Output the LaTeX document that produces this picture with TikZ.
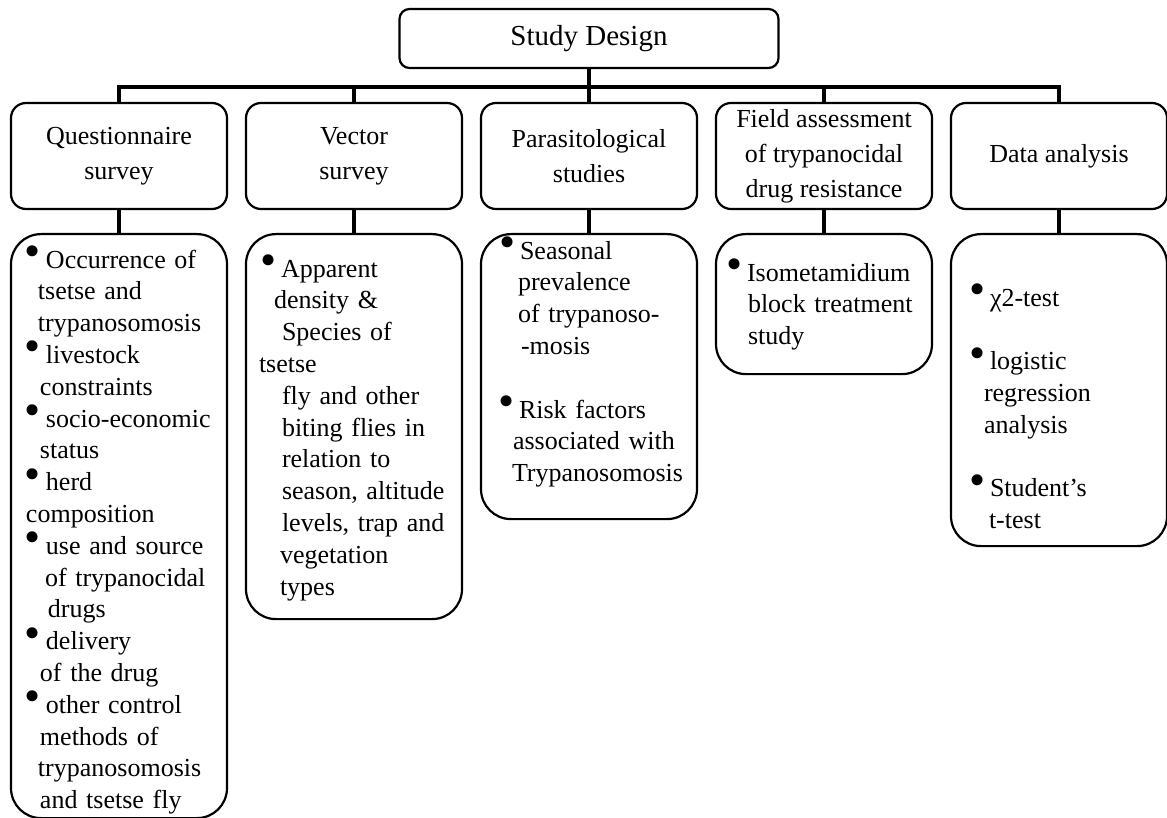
\documentclass[tikz,border=0pt]{standalone}
\usepackage{fontspec}
\setmainfont{Liberation Serif}
\newcommand{\bul}{\makebox[9pt][l]{\hspace*{-1.5pt}\raisebox{0.8pt}{\fontsize{23}{23}\selectfont\textbullet}}}
\begin{document}
\begin{tikzpicture}[level distance=58.75pt, sibling distance=117.5pt,
  every node/.style = {shape=rectangle, draw, line width=1.1pt,
    font=\fontsize{13}{17.5}\selectfont},
  head/.style = {rounded corners=5pt, minimum width=189.5pt,
    minimum height=29.5pt, font=\fontsize{14.5}{17}\selectfont},
  topic/.style = {rounded corners=7.5pt, minimum width=108pt,
    minimum height=53pt, align=center, inner sep=2pt},
  items/.style = {rounded corners=15pt, text width=104pt, inner xsep=2pt,
    inner ysep=0pt, align=left, anchor=north,
    font=\fontsize{13}{15.9}\selectfont},
  level 1/.style = {edge from parent path={(\tikzparentnode.south)
    -- ++(0,-9pt) -| (\tikzchildnode.north)}},
  level 2/.style = {level distance=38.5pt, edge from parent
    path={(\tikzparentnode.south) -- (\tikzchildnode.north)}},
  edge from parent/.style = {draw, line width=1.8pt}]
  \useasboundingbox (0,0) rectangle (583.5pt,-409pt);
  \node[head] (design) at (294.5pt,-19.25pt) {Study Design}
    child { node[topic] (quest) {Questionnaire\\survey}
      child { node[items, text height=17pt, text depth=275pt] (questlist) {%
        \hspace*{6.5pt}\bul Occurrence of\\
        \hspace*{11.5pt}tsetse and\\
        \hspace*{11.5pt}trypanosomosis\\
        \hspace*{6.5pt}\bul livestock\\
        \hspace*{12.5pt}constraints\\
        \hspace*{6.5pt}\bul socio-economic\\
        \hspace*{12.5pt}status\\
        \hspace*{6.5pt}\bul herd\\
        \hspace*{5.5pt}composition\\
        \hspace*{6.5pt}\bul use and source\\
        \hspace*{15pt}of trypanocidal\\
        \hspace*{16.5pt}drugs\\
        \hspace*{6.5pt}\bul delivery\\
        \hspace*{12.5pt}of the drug\\
        \hspace*{6.5pt}\bul other control\\
        \hspace*{12.5pt}methods of\\
        \hspace*{11.5pt}trypanosomosis\\
        \hspace*{12.5pt}and tsetse fly}
    } }
    child { node[topic] (vector) {Vector\\survey}
      child { node[items, text height=21.5pt, text depth=171pt] (vectorlist) {%
        \hspace*{6.5pt}\bul Apparent\\
        \hspace*{12pt}density \&\\
        \hspace*{16pt}Species of\\
        \hspace*{4.5pt}tsetse\\
        \hspace*{16pt}fly and other\\
        \hspace*{16pt}biting flies in\\
        \hspace*{16pt}relation to\\
        \hspace*{16pt}season, altitude\\
        \hspace*{16pt}levels, trap and\\
        \hspace*{15pt}vegetation\\
        \hspace*{15pt}types}
    } }
    child { node[topic] (parasit) {Parasitological\\studies}
      child { node[items, text height=12.5pt, text depth=130pt] (parasitlist) {%
        \hspace*{8.5pt}\bul Seasonal\\
        \hspace*{16.5pt}prevalence\\
        \hspace*{16.5pt}of trypanoso-\\
        \hspace*{18pt}-mosis\\[15.9pt]
        \hspace*{8pt}\bul Risk factors\\
        \hspace*{14pt}associated with\\
        \hspace*{13.5pt}Trypanosomosis}
    } }
    child { node[topic] (field) {Field assessment\\of trypanocidal\\drug resistance}
      child { node[items, text height=23.5pt, text depth=46.5pt] (fieldlist) {%
        \hspace*{4.5pt}\bul Isometamidium\\
        \hspace*{14pt}block treatment\\
        \hspace*{14pt}study}
    } }
    child { node[topic] (analysis) {Data analysis}
      child { node[items, text height=36pt, text depth=120pt] (analysislist) {%
        \hspace*{8.5pt}\bul χ2-test\\[15.9pt]
        \hspace*{8.5pt}\bul logistic\\
        \hspace*{14.5pt}regression\\
        \hspace*{14.5pt}analysis\\[15.9pt]
        \hspace*{8.5pt}\bul Student’s\\
        \hspace*{17pt}t-test}
    } };
\end{tikzpicture}
\end{document}
